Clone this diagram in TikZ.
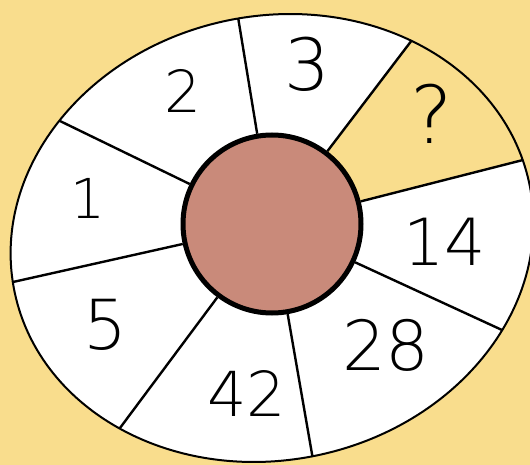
\documentclass[tikz,border=0pt]{standalone}
\usepackage{fontspec}
\usepackage{xcolor}
\usetikzlibrary{calc}
\IfFontExistsTF{DejaVu Sans ExtraLight}
  {\newfontfamily\handfont{DejaVu Sans ExtraLight}}
  {\IfFontExistsTF{Lato Light}
    {\newfontfamily\handfont{Lato Light}}
    {\newfontfamily\handfont{Fira Sans}}}
\definecolor{cyellow}{HTML}{F9DD8D}
\definecolor{chub}{HTML}{C98A7A}
\newcommand{\rim}{[rotate around={12:(272,238)}] (272,238) ellipse [x radius=263, y radius=222]}
\newcommand{\digsize}[1]{\handfont\fontsize{#1}{#1}\selectfont}

\begin{document}
\begin{tikzpicture}[x=1pt, y=-1pt,
    spoke/.style={line width=2.4pt, black, shorten >=-8pt},
    digit/.style={inner sep=0pt, font=\digsize{64}}]
  \clip (0,0) rectangle (530,465);
  \fill[cyellow] (0,0) rectangle (530,465);
  % hub centre and rim ends of the spokes
  \coordinate (c) at (272,224);
  \coordinate (o1) at (238,17);
  \coordinate (o2) at (412,40);
  \coordinate (o3) at (523,160);
  \coordinate (o4) at (502,330);
  \coordinate (o5) at (312,454);
  \coordinate (o6) at (117,432);
  \coordinate (o7) at (13,282);
  \coordinate (o8) at (62,122);
  \fill[white] \rim;
  \begin{scope}
    \clip \rim;
    \fill[cyellow] (c) -- ($(c)!3!(o2)$) -- ($(c)!3!(o3)$) -- cycle;
    \node[circle, minimum size=178pt, fill=chub, draw=black, line width=5pt] (hub) at (c) {};
    \foreach \i in {1,...,8}
      \draw[spoke] (hub) -- (o\i);
  \end{scope}
  \draw[line width=2pt] \rim;
  % numbers
  \node[digit, font=\digsize{58}] (n2) at (183,91) {2};
  \node[digit, font=\digsize{72}] (n3) at (307,64) {3};
  \node[digit, font=\digsize{80}] (nq) at (432,114) {?};
  \node[digit, font=\digsize{55}] (n1) at (88,198) {1};
  \node[digit, font=\digsize{65}] (n14) at (445,242) {14};
  \node[digit, font=\digsize{69}] (n5) at (105,325) {5};
  \node[digit, font=\digsize{62}] (n42) at (247,393) {42};
  \node[digit, font=\digsize{69}] (n28) at (386,345) {28};
\end{tikzpicture}
\end{document}
